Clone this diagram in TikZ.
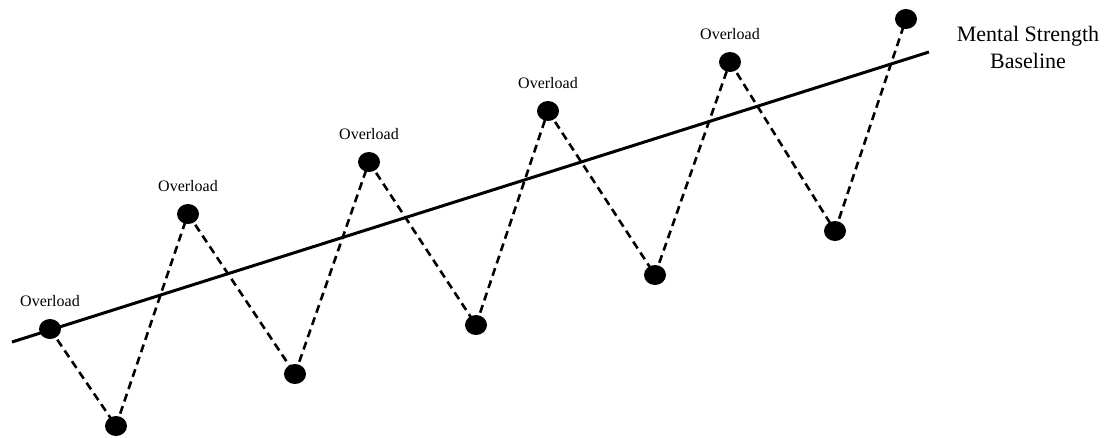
\documentclass[tikz,border=0pt]{standalone}
\usepackage{fontspec}
\setmainfont{Liberation Serif}
\usetikzlibrary{shapes.geometric,positioning}
\begin{document}
\begin{tikzpicture}[x=1pt,y=-1pt,
  dot/.style={ellipse,fill=black,minimum width=22pt,minimum height=20pt,inner sep=0pt},
  lbl/.style={font=\fontsize{16}{18}\selectfont,inner sep=0pt},
  zig/.style={line width=2.6pt,dash pattern=on 8pt off 5pt},
  base/.style={line width=3pt}]
\useasboundingbox (0,0) rectangle (1109,437);
\coordinate (b1) at (12,342);
\coordinate (b2) at (929,52);
\draw[base] (b1) -- (b2);
\foreach \n/\x/\y in {1/50/329,2/116/426,3/188/214,4/295/374,5/369/162,6/476/325,7/548/111,8/655/275,9/730/62,10/835/231,11/906/19}{
  \node[dot] (d\n) at (\x,\y) {};
}
\foreach \a/\b in {1/2,2/3,3/4,4/5,5/6,6/7,7/8,8/9,9/10,10/11}{
  \draw[zig] (d\a.center) -- (d\b.center);
}
\foreach \n in {1,3,5,7,9}{
  \node[lbl,above=22pt of d\n.center] {Overload};
}
\node[font=\fontsize{22}{27}\selectfont,align=center] (t) at (1028,47) {Mental Strength\\Baseline};
\end{tikzpicture}
\end{document}
